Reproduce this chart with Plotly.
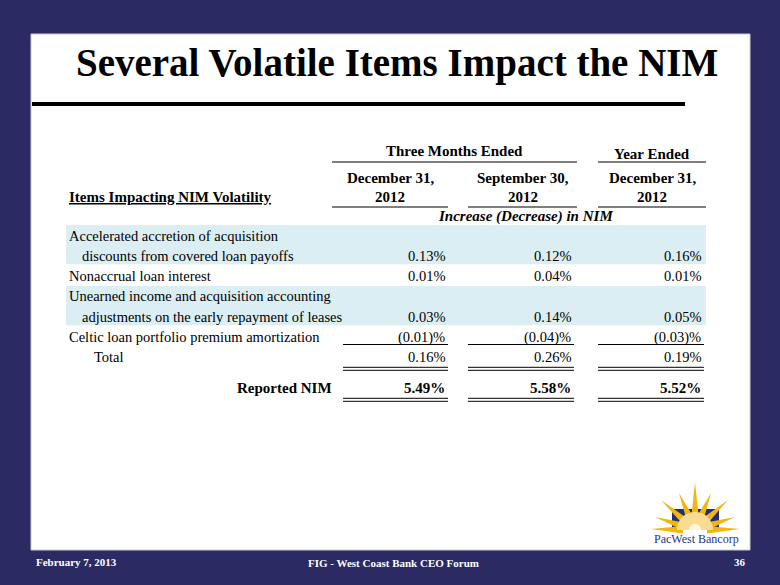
import numpy as np
import plotly.graph_objects as go

# ---------------- data ----------------
title_text = "Several Volatile Items Impact the NIM"
group_headers = ["Three Months Ended", "Year Ended"]
column_headers = [["December 31,", "2012"], ["September 30,", "2012"], ["December 31,", "2012"]]
stub_header = "Items Impacting NIM Volatility"
unit_caption = "Increase (Decrease) in NIM"

item_labels = [
    ["Accelerated accretion of acquisition", "discounts from covered loan payoffs"],
    ["Nonaccrual loan interest"],
    ["Unearned income and acquisition accounting", "adjustments on the early repayment of leases"],
    ["Celtic loan portfolio premium amortization"],
]
q4_2012 = [0.13, 0.01, 0.03, -0.01]
q3_2012 = [0.12, 0.04, 0.14, -0.04]
fy_2012 = [0.16, 0.01, 0.05, -0.03]

total_label = "Total"
totals = [0.16, 0.26, 0.19]
reported_label = "Reported NIM"
reported_nim = [5.49, 5.58, 5.52]

footer_left = "February 7, 2013"
footer_center = "FIG - West Coast Bank CEO Forum"
page_number = "36"
logo_text = "PacWest Bancorp"

# ---------------- styling ----------------
NAVY = "#2B2A62"
BAND = "#DAEEF3"
SERIF = "Liberation Serif, Times New Roman, serif"
BODY = 14.5


def fmt(v):
    return f"({abs(v):.2f})%" if v < 0 else f"{v:.2f}%"


fig = go.Figure()
fig.add_trace(go.Scatter(x=[0, 780], y=[0, 585], mode="markers",
                         marker=dict(opacity=0), hoverinfo="skip", showlegend=False))

shapes = []
ann = []


def text(x, y, s, size=BODY, anchor="left", color="black", bold=False, italic=False):
    if bold:
        s = f"<b>{s}</b>"
    if italic:
        s = f"<i>{s}</i>"
    ann.append(dict(x=x, y=y, xref="x", yref="y", text=s, showarrow=False,
                    xanchor=anchor, yanchor="middle",
                    font=dict(family=SERIF, size=size, color=color)))


def hline(x0, x1, y, w=1.2, color="black"):
    shapes.append(dict(type="line", x0=x0, x1=x1, y0=y, y1=y, xref="x", yref="y",
                       line=dict(color=color, width=w)))


def rect(x0, y0, x1, y1, fill, line=None):
    shapes.append(dict(type="rect", x0=x0, x1=x1, y0=y0, y1=y1, xref="x", yref="y",
                       fillcolor=fill, line=dict(width=1 if line else 0, color=line or fill)))


# slide panel
rect(31, 34, 750, 550, "white", line="#C9C9D2")

# title
text(397, 63, title_text, size=39, anchor="center", bold=True)
rect(32, 102, 685, 106, "black")

# table geometry
col_right = [447, 573, 703]
col_left = [343, 468, 598]
head_left = [332, 468, 598]
head_right = [448, 577, 706]
label_x = 67
indent_x = 80
line0 = 235.5
step = 20.3

# group headers
text((head_left[0] + head_right[1]) / 2, 151, group_headers[0], size=15, anchor="center", bold=True)
hline(head_left[0], head_right[1], 162)
text((head_left[2] + head_right[2]) / 2, 154, group_headers[1], size=15, anchor="center", bold=True)
hline(head_left[2], head_right[2], 162)

for i, (h1, h2) in enumerate(column_headers):
    cx = (head_left[i] + head_right[i]) / 2
    text(cx, 178, h1, size=15, anchor="center", bold=True)
    text(cx, 197, h2, size=15, anchor="center", bold=True)
    hline(head_left[i], head_right[i], 207)

text(label_x, 197, f"<u>{stub_header}</u>", size=15, bold=True)
text(525, 216, unit_caption, size=15, anchor="center", bold=True, italic=True)

# body rows
line = 0
cols = [q4_2012, q3_2012, fy_2012]
for k, lines in enumerate(item_labels):
    first = line0 + line * step
    last = line0 + (line + len(lines) - 1) * step
    if k % 2 == 0:
        rect(66, first - 10.5, 706, last + 8.5, BAND)
    for j, s in enumerate(lines):
        text(label_x if j == 0 else indent_x, line0 + (line + j) * step, s)
    for c in range(3):
        text(col_right[c], last, fmt(cols[c][k]), anchor="right")
    line += len(lines)

last_item_y = line0 + (line - 1) * step
total_y = line0 + line * step
for c in range(3):
    hline(col_left[c], col_right[c] + 1, last_item_y + 7.5)
    text(col_right[c], total_y, fmt(totals[c]), anchor="right")
    hline(col_left[c], col_right[c] + 1, total_y + 10, w=1)
    hline(col_left[c], col_right[c] + 1, total_y + 13, w=1)
text(92, total_y, total_label)

rep_y = total_y + 31
text(334, rep_y, reported_label, size=15, anchor="right", bold=True)
for c in range(3):
    text(col_right[c], rep_y, fmt(reported_nim[c]), size=15, anchor="right", bold=True)
    hline(col_left[c], col_right[c] + 1, rep_y + 10, w=1)
    hline(col_left[c], col_right[c] + 1, rep_y + 13, w=1)

# ---------------- logo ----------------
cx, cy = 695, 530
rect(672, 509, 719, cy, "#1F2F7A")
tips = [(651, 529), (655, 517), (661, 500), (679, 493), (695, 482),
        (711, 493), (728, 500), (735, 517), (740, 529)]
for tx, ty in tips:
    ang = np.arctan2(ty - cy, tx - cx)
    px, py = -np.sin(ang), np.cos(ang)
    r0 = 12
    bx, by = cx + r0 * np.cos(ang), cy + r0 * np.sin(ang)
    hw = 3.8
    path = (f"M {bx + px * hw:.1f},{by + py * hw:.1f} L {tx:.1f},{ty:.1f} "
            f"L {bx - px * hw:.1f},{by - py * hw:.1f} Z")
    shapes.append(dict(type="path", path=path, xref="x", yref="y",
                       fillcolor="#F2B60F", line=dict(width=0)))
theta = np.linspace(np.pi, 2 * np.pi, 30)
for r, col in [(18, "#F9DC93"), (6, "#FFF6DC")]:
    pts = " L ".join(f"{cx + r * np.cos(t):.1f},{cy + r * np.sin(t):.1f}" for t in theta)
    shapes.append(dict(type="path", path=f"M {pts} Z", xref="x", yref="y",
                       fillcolor=col, line=dict(width=0)))
text(696, 539, logo_text, size=12, anchor="center", color="#22378A")

# ---------------- footer ----------------
text(34, 562, footer_left, size=11, color="white", bold=True)
text(393, 563, footer_center, size=11, anchor="center", color="white", bold=True)
text(740, 562, page_number, size=11, anchor="center", color="white", bold=True)

fig.update_layout(
    width=780, height=585,
    margin=dict(l=0, r=0, t=0, b=0),
    paper_bgcolor=NAVY, plot_bgcolor=NAVY,
    xaxis=dict(range=[0, 780], visible=False, fixedrange=True),
    yaxis=dict(range=[585, 0], visible=False, fixedrange=True),
    shapes=shapes, annotations=ann, showlegend=False,
)
fig.write_html("out.html", config={"displayModeBar": False},
               post_script="document.body.style.margin='0px';document.body.style.overflow='hidden';")
